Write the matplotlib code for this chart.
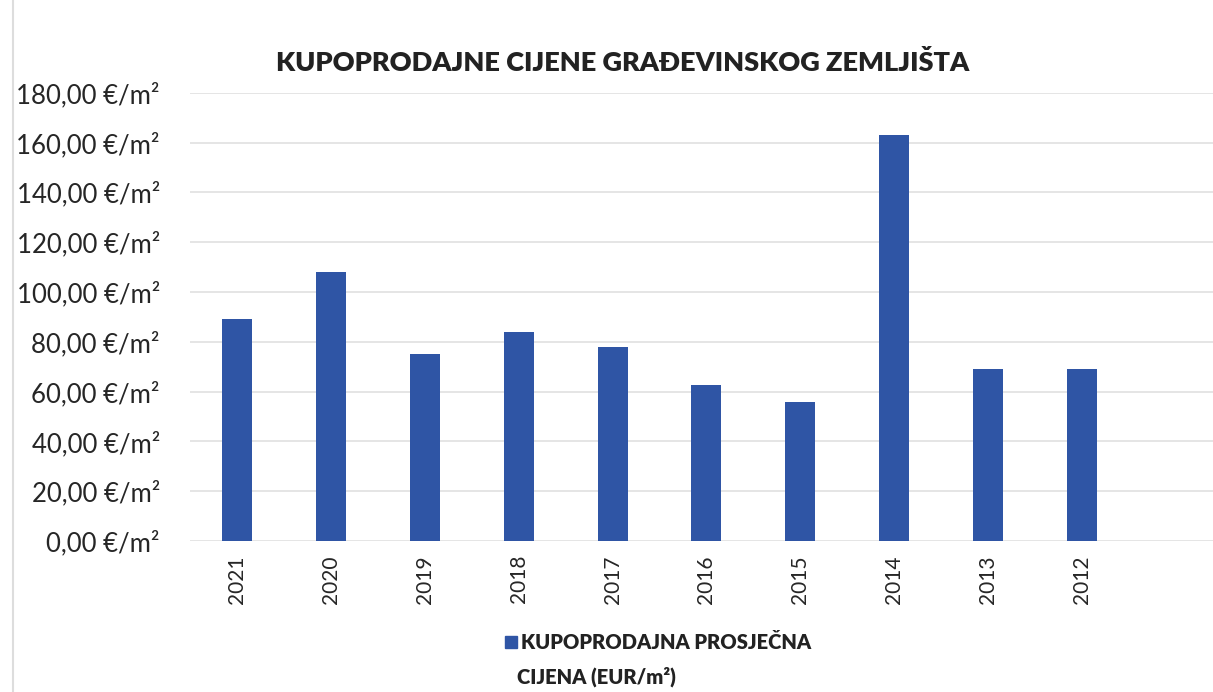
import matplotlib.pyplot as plt
from matplotlib.lines import Line2D

plt.rcParams['font.family'] = ['Lato', 'DejaVu Sans']

# average land prices per year (EUR/m2)
years = ["2021", "2020", "2019", "2018", "2017", "2016", "2015", "2014", "2013", "2012"]
prices = [89.0, 108.0, 75.0, 84.0, 78.0, 62.5, 56.0, 163.0, 69.0, 69.0]
y_ticks = [0, 20, 40, 60, 80, 100, 120, 140, 160, 180]

bar_color = '#2F55A5'

fig = plt.figure(figsize=(12.13, 6.92), dpi=100)
ax = fig.add_axes([0.157, 0.218, 0.843, 0.648])

x = range(len(years))
ax.bar(x, prices, width=0.32, color=bar_color, zorder=3)

ax.set_ylim(0, 180)
ax.set_xlim(-0.5, 10.4)
ax.set_yticks(y_ticks)
ax.set_yticklabels([f"{v:.2f}".replace('.', ',') + " €/m²" for v in y_ticks],
                   fontsize=18.5, color='#262626')
ax.set_xticks(list(x))
ax.set_xticklabels(years, rotation=90, fontsize=15, color='#262626')
ax.tick_params(axis='y', length=0, pad=22)
ax.tick_params(axis='x', length=0, pad=10)

ax.grid(axis='y', color='#E3E3E3', linewidth=1.3, zorder=0)
for s in ax.spines.values():
    s.set_visible(False)

fig.text(0.513, 0.91, "KUPOPRODAJNE CIJENE GRAĐEVINSKOG ZEMLJIŠTA",
         ha='center', va='center', fontsize=19.5, fontweight='heavy', color='#222222')

# legend: square marker beside first line, second line below
handle = Line2D([], [], marker='s', color=bar_color, linestyle='none', markersize=9)
fig.legend([handle], ["KUPOPRODAJNA PROSJEČNA"], loc='center left',
           bbox_to_anchor=(0.407, 0.071), frameon=False, handletextpad=0.15,
           handlelength=0.7, borderpad=0, prop={'size': 14.5, 'weight': 'heavy'},
           labelcolor='#222222')
fig.text(0.426, 0.022, "CIJENA (EUR/m²)", ha='left', va='center',
         fontsize=14.5, fontweight='heavy', color='#222222')

# faint scan border on the left
fig.add_artist(Line2D([0.011, 0.011], [0, 1], color='#DDDDDD', linewidth=1.5))

fig.savefig('out.png', dpi=100)
